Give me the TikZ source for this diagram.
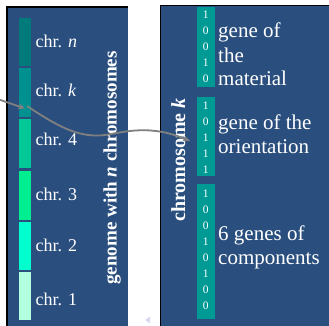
\documentclass[tikz,border=0pt]{standalone}
\usepackage{fontspec}
\setmainfont{Liberation Serif}
\usetikzlibrary{arrows.meta}
\definecolor{boxblue}{RGB}{42,79,126}
\definecolor{chrN}{RGB}{0,122,122}
\definecolor{chrK}{RGB}{0,144,143}
\definecolor{chrFour}{RGB}{0,200,150}
\definecolor{chrThree}{RGB}{0,238,144}
\definecolor{chrTwo}{RGB}{0,255,204}
\definecolor{chrOne}{RGB}{178,255,224}
\definecolor{bitcol}{RGB}{0,154,149}
\definecolor{arrowgray}{RGB}{128,128,128}
\definecolor{navtri}{RGB}{216,216,240}
\tikzset{
  panel/.style={fill=boxblue, draw=none},
  edgeline/.style={draw=black, line width=1.4pt},
  chrbar/.style={draw=none, minimum width=12pt, inner sep=0pt},
  chrlabel/.style={text=white, anchor=base west, inner sep=0pt, font=\fontsize{18}{20}\selectfont},
  bitbar/.style={fill=bitcol, draw=none},
  bits/.style={text=white, anchor=center, inner sep=0pt, font=\fontsize{11.5}{16}\selectfont},
  genetext/.style={text=white, anchor=base west, inner sep=0pt, font=\fontsize{21}{24}\selectfont},
  sidetitle/.style={text=white, rotate=90, anchor=base, inner sep=0pt, font=\bfseries},
  link/.style={draw=arrowgray, line width=1.8pt, -{Stealth[length=7pt,width=6pt]}},
}
\begin{document}
\begin{tikzpicture}[x=1pt,y=-1pt]
\useasboundingbox (0,0) rectangle (329,325);
% panels
\fill[panel] (7,7) rectangle (127.5,326);
\draw[edgeline] (7,326) -- (7,7) -- (127.5,7);
\fill[panel] (160.5,5.5) rectangle (330,326);
\draw[edgeline] (160.5,326) -- (160.5,5.5) -- (330,5.5);
% chromosome bars
\node[chrbar, fill=chrN, minimum height=48pt] (cn) at (25,42) {};
\node[chrbar, fill=chrK, minimum height=49pt] (ck) at (25,92.5) {};
\node[chrbar, fill=chrFour, minimum height=49pt] (c4) at (25,143) {};
\node[chrbar, fill=chrThree, minimum height=49pt] (c3) at (25,195.5) {};
\node[chrbar, fill=chrTwo, minimum height=48pt] (c2) at (25,246) {};
\node[chrbar, fill=chrOne, minimum height=48pt] (c1) at (25,296) {};
\node[chrlabel] (ln) at (35.5,47.5) {chr. \textit{n}};
\node[chrlabel] (lk) at (35.5,96.5) {chr. \textit{k}};
\node[chrlabel] (l4) at (35.5,145.5) {chr. 4};
\node[chrlabel] (l3) at (35.5,200.5) {chr. 3};
\node[chrlabel] (l2) at (35.5,251.5) {chr. 2};
\node[chrlabel] (l1) at (35.5,305) {chr. 1};
\node[sidetitle, font=\bfseries\fontsize{19}{20}\selectfont] (gtitle) at (116.5,168) {genome with \textit{n} chromosomes};
% right panel
\node[sidetitle, font=\bfseries\fontsize{20}{22}\selectfont] (ctitle) at (185,160) {chromosome \textit{k}};
\fill[bitbar] (197.3,7) rectangle (215,87);
\fill[bitbar] (197.3,96.7) rectangle (215,175.5);
\fill[bitbar] (197.3,184) rectangle (215,318.5);
\foreach \b [count=\i] in {1,0,0,1,0} {\node[bits] (ba\i) at (205.7,{15+16*(\i-1)}) {\b};}
\foreach \b [count=\i] in {1,0,1,1,1} {\node[bits] (bb\i) at (205.7,{105.5+16*(\i-1)}) {\b};}
\foreach \b [count=\i] in {1,0,0,1,0,1,0,0} {\node[bits] (bc\i) at (205.7,{193.5+16.1*(\i-1)}) {\b};}
\node[genetext] (g1a) at (218,37.5) {gene of};
\node[genetext] (g1b) at (218,62) {the};
\node[genetext] (g1c) at (218,85.5) {material};
\node[genetext] (g2a) at (218,129.5) {gene of the};
\node[genetext] (g2b) at (218,153.5) {orientation};
\node[genetext] (g3a) at (218,240) {6 genes of};
\node[genetext] (g3b) at (218,264) {components};
% connectors
\coordinate (src) at (-1,99.5);
\coordinate (ktip) at (25,108.5);
\coordinate (kstart) at (27,106);
\coordinate (ctip) at (190,141);
\draw[link] (src) -- (ktip);
\draw[link] (kstart) .. controls (60,128) and (80,138) .. (105,135) .. controls (125,132) and (150,124) .. (ctip);
% slide navigation mark
\fill[navtri] (145,320) -- (150,316.5) -- (150,323.5) -- cycle;
\end{tikzpicture}
\end{document}
